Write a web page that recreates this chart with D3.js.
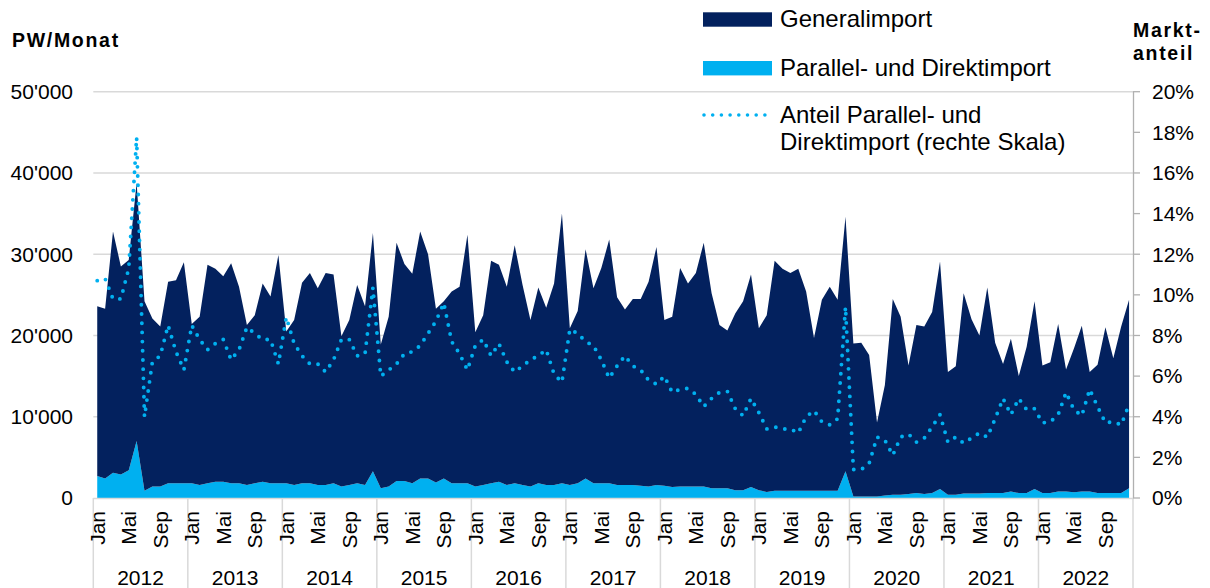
<!DOCTYPE html>
<html><head><meta charset="utf-8">
<script src="https://cdn.jsdelivr.net/npm/d3@7"></script>
<style>
body{margin:0;background:#fff}
svg{display:block}
text{font-family:"Liberation Sans",Arial,Helvetica,sans-serif;fill:#000}
</style>
</head><body>
<svg id="chart" width="1210" height="588"></svg>
<script>
// ---------- DATA ----------
const years = [2012,2013,2014,2015,2016,2017,2018,2019,2020,2021,2022];
const monthNames = ["Jan","Feb","Mär","Apr","Mai","Jun","Jul","Aug","Sep","Okt","Nov","Dez"];
const shownMonths = ["Jan","Mai","Sep"];
// PW per month (thousands)
const generalimport = [
 20.9,20.9,29.7,25.6,25.9,31.8,23.3,20.7,19.7,24.8,25.0,27.2,
 19.6,20.7,26.9,26.2,25.3,27.1,24.2,19.7,20.7,24.4,23.0,28.1,
 18.7,20.3,24.7,25.9,24.2,26.1,25.7,18.5,20.3,24.4,22.0,29.3,
 17.7,20.9,29.3,26.7,25.8,30.4,27.6,21.4,21.8,23.6,24.2,30.6,
 19.0,20.9,27.4,26.7,24.4,29.3,24.6,20.5,24.1,21.8,24.8,33.2,
 19.3,21.2,28.2,24.0,26.5,30.0,23.1,21.6,22.9,23.0,25.2,29.3,
 20.4,20.95,26.9,25.0,26.3,30.0,24.0,20.1,19.4,21.75,23.25,26.15,
 19.95,21.75,28.3,27.3,26.8,27.3,24.5,18.8,23.5,25.1,23.5,31.3,
 18.8,18.9,17.4,9.1,13.6,24.1,21.9,15.8,20.7,20.6,22.3,28.0,
 15.1,15.8,24.65,21.45,19.45,25.3,18.5,15.9,18.8,14.4,18.0,23.1,
 15.7,16.1,20.6,15.0,17.7,20.4,14.7,15.8,20.4,16.6,20.5,23.2
];
const parallelDirekt = [
 2.7,2.4,3.1,2.9,3.4,7.0,0.9,1.4,1.4,1.8,1.8,1.8,
 1.8,1.6,1.8,2.0,2.0,1.8,1.8,1.6,1.8,2.0,1.8,1.8,
 1.8,1.6,1.8,1.8,1.6,1.6,1.8,1.4,1.6,1.8,1.6,3.3,
 1.2,1.4,2.1,2.1,1.8,2.4,2.4,1.9,2.4,1.8,1.8,1.8,
 1.4,1.6,1.8,2.0,1.6,1.8,1.6,1.4,1.8,1.6,1.6,1.8,
 1.6,1.8,2.4,1.8,1.8,1.8,1.6,1.6,1.6,1.5,1.4,1.6,
 1.5,1.35,1.4,1.4,1.4,1.4,1.2,1.2,1.2,0.95,0.95,1.35,
 0.95,0.75,0.9,0.9,0.9,0.9,0.9,0.9,0.9,0.9,0.9,3.3,
 0.2,0.2,0.2,0.2,0.3,0.4,0.4,0.5,0.6,0.5,0.6,1.1,
 0.4,0.4,0.55,0.55,0.55,0.6,0.6,0.6,0.8,0.6,0.6,1.1,
 0.6,0.6,0.8,0.8,0.7,0.8,0.8,0.6,0.6,0.6,0.6,1.2
];
// market share in %
const anteil = [
 10.7,10.8,9.8,9.8,11.3,17.75,4.0,6.7,7.0,8.5,7.2,6.3,
 8.5,7.8,7.3,7.6,7.8,6.8,7.3,8.4,8.1,7.8,7.8,6.6,
 8.9,7.6,7.0,6.6,6.6,6.2,6.8,7.8,7.8,7.0,7.1,10.35,
 6.0,6.3,6.6,7.1,7.2,7.5,8.1,8.7,9.6,7.7,7.1,6.3,
 7.5,7.8,7.0,7.6,6.7,6.2,6.5,6.8,7.0,7.3,6.1,5.7,
 8.3,8.1,7.7,7.5,6.8,5.9,6.5,7.0,6.5,6.3,5.8,5.6,
 6.0,5.2,5.35,5.4,5.1,4.5,4.9,5.2,5.25,4.4,4.05,4.9,
 4.2,3.4,3.5,3.4,3.4,3.2,4.0,4.3,3.75,3.6,3.9,9.4,
 1.4,1.4,1.7,3.0,2.85,2.1,3.0,3.15,2.75,2.95,3.5,4.1,
 2.75,3.0,2.7,2.95,3.2,3.0,3.9,4.9,4.1,4.9,4.35,4.4,
 3.7,3.75,4.1,5.2,4.35,4.05,5.35,4.5,3.7,3.75,3.6,4.6
];
const leftTickValues = [0,10,20,30,40,50];          // thousands
const leftTickLabels = ["0","10'000","20'000","30'000","40'000","50'000"];
const rightTickValues = [0,2,4,6,8,10,12,14,16,18,20];
const legendLabels = ["Generalimport","Parallel- und Direktimport"];
const legendLineLabel = ["Anteil Parallel- und","Direktimport (rechte Skala)"];

// ---------- CHART ----------
const svg = d3.select("#chart");
const C_DARK = "#03215e", C_LIGHT = "#00b0f0", C_GRID = "#d9d9d9";
const L = 93.3, R = 1133, T = 91.7, B = 498;

const rows = generalimport.map((g,i)=>({i, general:g, parallel:parallelDirekt[i]}));
const x = d3.scalePoint().domain(d3.range(rows.length)).range([L,R]).padding(0.5);
const step = x.step();
const y = d3.scaleLinear().domain([0,50]).range([B,T]);
const y2 = d3.scaleLinear().domain([0,20]).range([B,T]);

// gridlines
svg.append("g").selectAll("line").data(leftTickValues.filter(v=>v>0)).join("line")
  .attr("x1",L).attr("x2",R).attr("y1",d=>y(d)).attr("y2",d=>y(d))
  .attr("stroke",C_GRID).attr("stroke-width",1.4);

// stacked areas
const stack = d3.stack().keys(["parallel","general"]);
const series = stack(rows);
const area = d3.area().x((d,i)=>x(i)).y0(d=>y(d[0])).y1(d=>y(d[1]));
svg.append("g").selectAll("path").data(series).join("path")
  .attr("d",area)
  .attr("fill",d=>d.key==="general"?C_DARK:C_LIGHT);

// x axis line
svg.append("line").attr("x1",L).attr("x2",R).attr("y1",B+0.5).attr("y2",B+0.5)
  .attr("stroke",C_GRID).attr("stroke-width",1.5);

// year separators
const sepX = d3.range(years.length+1).map(k => L + k*12*step);
svg.append("g").selectAll("line").data(sepX).join("line")
  .attr("x1",d=>d).attr("x2",d=>d).attr("y1",B).attr("y2",588)
  .attr("stroke",C_GRID).attr("stroke-width",1.5);

// left axis labels
svg.append("g").selectAll("text").data(leftTickValues).join("text")
  .attr("x",73).attr("y",d=>y(d)).attr("dy","0.35em").attr("text-anchor","end")
  .style("font-size","21px").text((d,i)=>leftTickLabels[i]);

// right axis
const ra = svg.append("g");
ra.append("line").attr("x1",R+0.5).attr("x2",R+0.5).attr("y1",T).attr("y2",B)
  .attr("stroke","#b0b0b0").attr("stroke-width",1.3);
ra.selectAll("line.t").data(rightTickValues).join("line").attr("class","t")
  .attr("x1",R).attr("x2",R+7).attr("y1",d=>y2(d)).attr("y2",d=>y2(d))
  .attr("stroke","#b0b0b0").attr("stroke-width",1.3);
ra.selectAll("text").data(rightTickValues).join("text")
  .attr("x",1152).attr("y",d=>y2(d)).attr("dy","0.35em")
  .style("font-size","21px").text(d=>d+"%");

// month labels
const monthTicks = [];
years.forEach((yr,k)=>shownMonths.forEach(m=>monthTicks.push({i:k*12+monthNames.indexOf(m), m})));
svg.append("g").selectAll("text").data(monthTicks).join("text")
  .attr("transform",d=>`translate(${x(d.i)},511) rotate(-90)`)
  .attr("text-anchor","end").attr("dy","0.35em")
  .style("font-size","21px").text(d=>d.m);

// year labels
svg.append("g").selectAll("text").data(years).join("text")
  .attr("x",(d,k)=>(x(k*12)+x(k*12+11))/2).attr("y",585)
  .attr("text-anchor","middle").style("font-size","21px").text(d=>d);

// share line (dotted)
const line = d3.line().x((d,i)=>x(i)).y(d=>y2(d));
svg.append("path").datum(anteil).attr("d",line)
  .attr("fill","none").attr("stroke",C_LIGHT).attr("stroke-width",3.9)
  .attr("stroke-linecap","round").attr("stroke-dasharray","0 9.2");

// axis titles
svg.append("text").attr("x",12).attr("y",47).style("font-size","19.5px").style("font-weight","bold")
  .style("letter-spacing","1.7px").text("PW/Monat");
svg.append("text").attr("x",1133).attr("y",37).style("font-size","19.5px").style("font-weight","bold")
  .style("letter-spacing","1.7px").text("Markt-");
svg.append("text").attr("x",1133).attr("y",60).style("font-size","19.5px").style("font-weight","bold")
  .style("letter-spacing","1.7px").text("anteil");

// legend
const lg = svg.append("g");
[[C_DARK,12.3,legendLabels[0],27],[C_LIGHT,61,legendLabels[1],76]].forEach(([c,yy,t,by])=>{
  lg.append("rect").attr("x",703).attr("y",yy).attr("width",69).attr("height",14.4).attr("fill",c);
  lg.append("text").attr("x",780).attr("y",by).style("font-size","24px").text(t);
});
lg.append("line").attr("x1",704).attr("x2",770).attr("y1",115).attr("y2",115)
  .attr("stroke",C_LIGHT).attr("stroke-width",3.6).attr("stroke-linecap","round").attr("stroke-dasharray","0 8.7");
lg.append("text").attr("x",780).attr("y",122.7).style("font-size","24px").text(legendLineLabel[0]);
lg.append("text").attr("x",780).attr("y",150).style("font-size","24px").text(legendLineLabel[1]);
</script>
</body></html>
